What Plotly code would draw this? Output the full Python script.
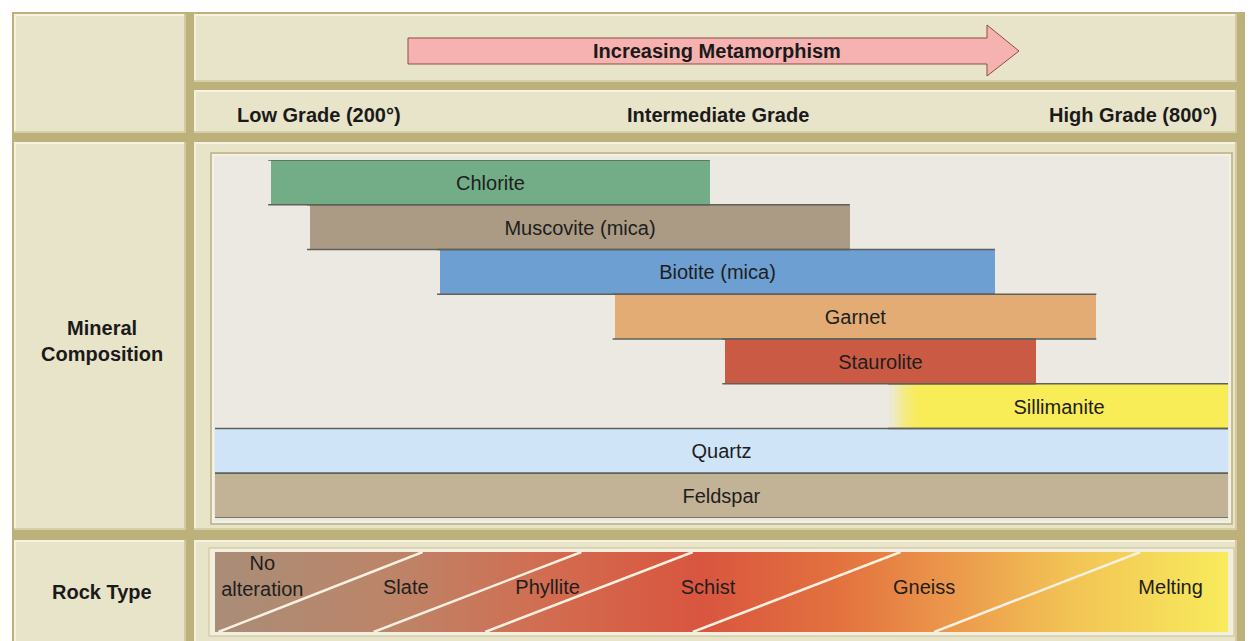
import plotly.graph_objects as go

W, H = 1253, 641
OFF = 8  # browser body margin: page pixel p -> figure pixel p - OFF

# ---------------- data ----------------
minerals = ["Chlorite", "Muscovite (mica)", "Biotite (mica)", "Garnet",
            "Staurolite", "Sillimanite", "Quartz", "Feldspar"]
mineral_start = [233, 256, 333, 437, 502, 600, 200, 200]   # degrees C
mineral_end = [493, 576, 662, 722, 686, 800, 800, 800]
mineral_colors = ["#72ad87", "#ab9a84", "#6e9fd2", "#e2ac74",
                  "#cb5a45", "#f8ec57", "#cfe4f7", "#c3b396"]

rock_types = ["No<br>alteration", "Slate", "Phyllite", "Schist", "Gneiss", "Melting"]
rock_label_x = [228, 313, 397, 492, 620, 766]
rock_label_y = [0.68, 0.54, 0.54, 0.54, 0.54, 0.54]
rock_bound_low = [202, 294, 360, 483, 626]     # boundary at bottom of band
rock_bound_high = [323, 417, 483, 606, 748]    # boundary at top of band

grade_labels = ["Low Grade (200°)", "Intermediate Grade", "High Grade (800°)"]
arrow_label = "Increasing Metamorphism"
row_labels = ["Mineral<br>Composition", "Rock Type"]

# ---------------- helpers ----------------
def X(p):
    return (p - OFF) / W


def Y(p):
    return 1 - (p - OFF) / H


FONT = "Liberation Sans, Arial, sans-serif"
CELL = "#e8e4c9"
FRAME = "#bcb17a"
PANEL = "#ebe9e2"

fig = go.Figure()
shapes = []


def rect(x0, y0, x1, y1, fill, line=None, lw=0, layer="below"):
    shapes.append(dict(type="rect", xref="paper", yref="paper",
                       x0=X(x0), x1=X(x1), y0=Y(y1), y1=Y(y0),
                       fillcolor=fill, line=dict(color=line or fill, width=lw),
                       layer=layer))


def seg(x0, y0, x1, y1, color, lw, layer="below"):
    shapes.append(dict(type="line", xref="paper", yref="paper",
                       x0=X(x0), x1=X(x1), y0=Y(y0), y1=Y(y1),
                       line=dict(color=color, width=lw), layer=layer))


# frame
rect(12, 12, 1245, 660, FRAME)


def cell(x0, y0, x1, y1):
    rect(x0, y0, x1, y1, CELL)
    seg(x0, y0 + 1, x1, y0 + 1, "#f6f3e3", 2)
    seg(x0 + 1, y0, x0 + 1, y1, "#f3f0dc", 2)
    seg(x0, y1 - 1, x1, y1 - 1, "#d6d0a8", 2)
    seg(x1 - 1, y0, x1 - 1, y1, "#d2cba0", 2)


cell(14, 14, 186, 133)
cell(194, 14, 1237, 82)
cell(194, 90, 1237, 133)
cell(14, 142, 186, 530)
cell(194, 142, 1237, 530)
cell(14, 540, 186, 660)
cell(194, 540, 1237, 660)

# inner mineral panel
rect(211, 153, 1232, 524, "#f4f1e2", "#b8ae80", 1.5)
rect(214, 156, 1229, 521, PANEL)
# inner rock panel frame
rect(209, 548, 1234, 636, "#f2efde", "#c9c094", 1)

# arrow
path = "M {} {} L {} {} L {} {} L {} {} L {} {} L {} {} L {} {} Z".format(
    X(408), Y(38), X(987), Y(38), X(987), Y(25), X(1019), Y(51),
    X(987), Y(76), X(987), Y(64), X(408), Y(64))
shapes.append(dict(type="path", xref="paper", yref="paper", path=path,
                   fillcolor="#f6b2b0", line=dict(color="#8c4c46", width=1),
                   layer="below"))

# ---------------- mineral bars ----------------
idx = list(range(len(minerals)))
fig.add_trace(go.Bar(
    orientation="h", y=idx,
    x=[e - s for s, e in zip(mineral_start, mineral_end)],
    base=mineral_start, width=1,
    marker=dict(color=mineral_colors, line=dict(width=0)),
    text=minerals, textposition="inside", insidetextanchor="middle",
    textangle=0, constraintext="none",
    textfont=dict(family=FONT, size=20, color="#1e1e1e"),
    hoverinfo="skip", showlegend=False, xaxis="x", yaxis="y"))

# soft left edge of the Sillimanite bar
k = minerals.index("Sillimanite")
s0 = mineral_start[k]
fig.add_trace(go.Scatter(
    x=[s0, s0 + 20, s0 + 20, s0, s0], y=[k - 0.5, k - 0.5, k + 0.5, k + 0.5, k - 0.5],
    mode="lines", fill="toself", line=dict(width=0),
    fillgradient=dict(type="horizontal",
                      colorscale=[[0, PANEL], [1, "rgba(248,236,87,0)"]]),
    hoverinfo="skip", showlegend=False, xaxis="x", yaxis="y"))

lx, ly = [], []
for i, (s, e) in enumerate(zip(mineral_start, mineral_end)):
    lx += [s - 1.5, e, None, s - 1.5, e, None]
    ly += [i - 0.5, i - 0.5, None, i + 0.5, i + 0.5, None]
fig.add_trace(go.Scatter(x=lx, y=ly, mode="lines",
                         line=dict(color="#5f605a", width=1.3),
                         hoverinfo="skip", showlegend=False,
                         xaxis="x", yaxis="y"))

# ---------------- rock type band ----------------
fig.add_trace(go.Scatter(
    x=[199, 801, 801, 199, 199], y=[0, 0, 1, 1, 0], mode="lines",
    fill="toself", line=dict(width=0),
    fillgradient=dict(type="horizontal", colorscale=[
        [0.0, "#a98d78"], [0.18, "#bd8468"], [0.33, "#d26c50"],
        [0.48, "#d9553f"], [0.62, "#e3733f"], [0.72, "#eb964b"],
        [0.84, "#f2c255"], [1.0, "#f8ec5c"]]),
    hoverinfo="skip", showlegend=False, xaxis="x", yaxis="y2"))

bx, by = [], []
for lo, hi in zip(rock_bound_low, rock_bound_high):
    bx += [lo, hi, None]
    by += [0, 1, None]
fig.add_trace(go.Scatter(x=bx, y=by, mode="lines",
                         line=dict(color="#f7f1e2", width=2.5),
                         hoverinfo="skip", showlegend=False,
                         xaxis="x", yaxis="y2"))

fig.add_trace(go.Scatter(x=rock_label_x, y=rock_label_y, mode="text",
                         text=rock_types,
                         textfont=dict(family=FONT, size=20, color="#1e1e1e"),
                         hoverinfo="skip", showlegend=False,
                         xaxis="x", yaxis="y2"))

# ---------------- text annotations ----------------
ann = []


def label(text, x, y, anchor="center", size=20, bold=True):
    ann.append(dict(text="<b>%s</b>" % text if bold else text,
                    xref="paper", yref="paper", x=X(x), y=Y(y),
                    xanchor=anchor, yanchor="middle", showarrow=False,
                    font=dict(family=FONT, size=size, color="#1a1a1a")))


label(arrow_label, 717, 51)
label(grade_labels[0], 235, 115, "left")
label(grade_labels[1], 718, 115)
label(grade_labels[2], 1219, 115, "right")
label(row_labels[0], 102, 341)
label(row_labels[1], 102, 592)

fig.update_layout(
    width=W, height=H, margin=dict(l=0, r=0, t=0, b=0),
    paper_bgcolor="white", plot_bgcolor="rgba(0,0,0,0)",
    shapes=shapes, annotations=ann, bargap=0, showlegend=False,
    xaxis=dict(domain=[X(215), X(1228)], range=[200, 800], visible=False,
               fixedrange=True),
    yaxis=dict(domain=[Y(518), Y(160)], range=[7.5, -0.5], visible=False,
               fixedrange=True),
    yaxis2=dict(domain=[Y(632), Y(552)], range=[0, 1], visible=False,
                fixedrange=True),
)

fig.write_html("out.html")
